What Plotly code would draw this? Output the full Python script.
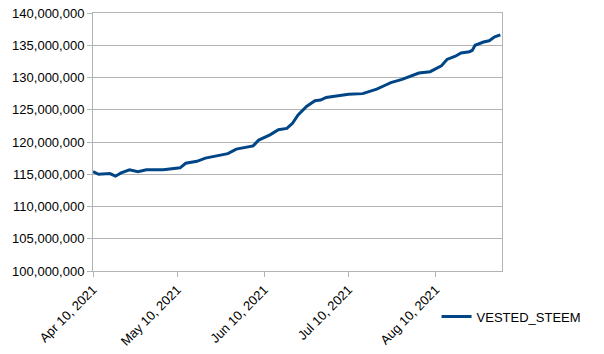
import plotly.graph_objects as go

dates = ["2021-04-10", "2021-04-12", "2021-04-16", "2021-04-18", "2021-04-20", "2021-04-23",
         "2021-04-26", "2021-04-29", "2021-05-05", "2021-05-08", "2021-05-11", "2021-05-13",
         "2021-05-17", "2021-05-20", "2021-05-25", "2021-05-28", "2021-05-31", "2021-06-06",
         "2021-06-08", "2021-06-12", "2021-06-15", "2021-06-18", "2021-06-20", "2021-06-22",
         "2021-06-25", "2021-06-28", "2021-06-30", "2021-07-02", "2021-07-05", "2021-07-10",
         "2021-07-15", "2021-07-17", "2021-07-20", "2021-07-23", "2021-07-25", "2021-07-29",
         "2021-08-01", "2021-08-04", "2021-08-08", "2021-08-10", "2021-08-12", "2021-08-14",
         "2021-08-17", "2021-08-19", "2021-08-22", "2021-08-23", "2021-08-24", "2021-08-27",
         "2021-08-29", "2021-08-31", "2021-09-02"]
vested_steem = [115.4, 115.0, 115.1, 114.7, 115.2, 115.7,
                115.4, 115.7, 115.7, 115.8, 116.0, 116.7,
                117.0, 117.5, 117.9, 118.2, 118.9, 119.4,
                120.3, 121.1, 121.9, 122.1, 122.9, 124.2,
                125.5, 126.4, 126.5, 126.9, 127.1, 127.4,
                127.5, 127.8, 128.2, 128.8, 129.2, 129.7,
                130.2, 130.7, 130.9, 131.4, 131.8, 132.8,
                133.3, 133.8, 134.0, 134.2, 135.0, 135.5,
                135.7, 136.3, 136.6]
vested_steem = [v * 1e6 for v in vested_steem]

x_ticks = ["2021-04-10", "2021-05-10", "2021-06-10", "2021-07-10", "2021-08-10"]
x_tick_labels = ["Apr 10, 2021", "May 10, 2021", "Jun 10, 2021", "Jul 10, 2021", "Aug 10, 2021"]
y_ticks = [100e6 + 5e6 * i for i in range(9)]

fig = go.Figure()
fig.add_trace(go.Scatter(
    x=dates, y=vested_steem, mode="lines", name="VESTED_STEEM",
    line=dict(color="#004586", width=3),
))

axis_font = dict(family="Liberation Sans, Arial, sans-serif", size=13, color="#000000")
fig.update_layout(
    width=604, height=354,
    margin=dict(l=93, r=102, t=13, b=83, autoexpand=False),
    paper_bgcolor="white", plot_bgcolor="white",
    font=axis_font,
    showlegend=True,
    legend=dict(x=0.84, y=-0.177, xanchor="left", yanchor="middle",
                font=dict(family="Liberation Sans, Arial, sans-serif", size=13, color="#000000"),
                bgcolor="rgba(0,0,0,0)"),
    xaxis=dict(
        type="date", range=["2021-04-10", "2021-09-02 14:00"],
        tickvals=x_ticks, ticktext=x_tick_labels, tickangle=-45,
        showgrid=False, showline=True, linecolor="#b3b3b3", linewidth=1, mirror=True,
        ticks="outside", ticklen=5, tickcolor="#b3b3b3",
        tickfont=axis_font, zeroline=False, automargin=False,
    ),
    yaxis=dict(
        range=[100e6, 140e6], tickvals=y_ticks, tickformat=",d",
        showgrid=True, gridcolor="#b3b3b3", gridwidth=1,
        showline=True, linecolor="#b3b3b3", linewidth=1, mirror=True,
        ticks="outside", ticklen=5, tickcolor="#b3b3b3",
        tickfont=axis_font, zeroline=False, automargin=False,
    ),
)

fig.write_html("out.html")
